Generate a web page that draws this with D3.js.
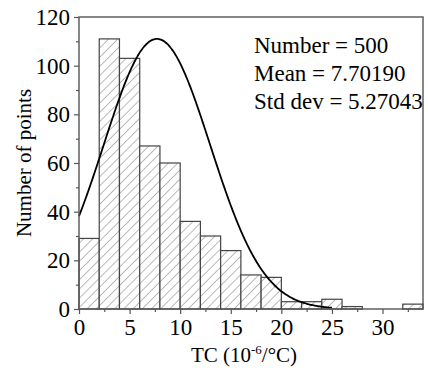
<!DOCTYPE html>
<html><head><meta charset="utf-8">
<script src="https://cdn.jsdelivr.net/npm/d3@7"></script>
<style>body{margin:0;background:#fff}</style>
</head><body>
<script>
const binStarts = [0,2,4,6,8,10,12,14,16,18,20,22,24,26,28,30,32];
const counts    = [29,111,103,67,60,36,30,24,14,13,3,3,4,1,0,0,2];
const binWidth = 2;
const xTicks = [0,5,10,15,20,25,30];
const yTicks = [0,20,40,60,80,100,120];
const statsLines = ["Number = 500","Mean = 7.70190","Std dev = 5.27043"];
const fitMean = 7.70190, fitSd = 5.27043, fitPeak = 111, fitRange = [0,25];

const W=428,H=374;
const m={l:79,r:5,t:17,b:65};
const svg=d3.select("body").append("svg").attr("width",W).attr("height",H);
const x=d3.scaleLinear().domain([0,34]).range([m.l,W-m.r]);
const y=d3.scaleLinear().domain([0,120]).range([H-m.b,m.t]);
const font="Liberation Serif, Times New Roman, serif";

const defs=svg.append("defs");
const pat=defs.append("pattern").attr("id","hatch").attr("patternUnits","userSpaceOnUse")
  .attr("width",6.5).attr("height",6.5).attr("patternTransform","rotate(45)");
pat.append("rect").attr("width",6.5).attr("height",6.5).attr("fill","#fff");
pat.append("line").attr("x1",0).attr("y1",0).attr("x2",0).attr("y2",6.5).attr("stroke","#666").attr("stroke-width",0.9);

svg.append("g").selectAll("rect").data(binStarts.map((s,i)=>({s,c:counts[i]})).filter(d=>d.c>0))
  .join("rect")
  .attr("x",d=>x(d.s)).attr("width",d=>x(d.s+binWidth)-x(d.s))
  .attr("y",d=>y(d.c)).attr("height",d=>y(0)-y(d.c))
  .attr("fill","url(#hatch)").attr("stroke","#444").attr("stroke-width",1.2);

// fitted normal curve from displayed statistics
const pts=d3.range(fitRange[0],fitRange[1]+0.001,0.1).map(v=>[v,fitPeak*Math.exp(-0.5*Math.pow((v-fitMean)/fitSd,2))]);
svg.append("path").datum(pts).attr("d",d3.line().x(d=>x(d[0])).y(d=>y(d[1])).curve(d3.curveBasis))
  .attr("fill","none").attr("stroke","#000").attr("stroke-width",1.8);

// frame
svg.append("rect").attr("x",x(0)).attr("y",y(120)).attr("width",x(34)-x(0)).attr("height",y(0)-y(120))
  .attr("fill","none").attr("stroke","#555").attr("stroke-width",1.4);

// axes
const xa=svg.append("g").attr("transform",`translate(0,${y(0)})`)
  .call(d3.axisBottom(x).tickValues(xTicks).tickSize(5).tickPadding(5).tickFormat(d3.format("d")));
const xm=svg.append("g").attr("transform",`translate(0,${y(0)})`)
  .call(d3.axisBottom(x).tickValues(d3.range(2.5,34,5)).tickSize(3).tickFormat(""));
const ya=svg.append("g").attr("transform",`translate(${x(0)},0)`)
  .call(d3.axisLeft(y).tickValues(yTicks).tickSize(5).tickPadding(4).tickFormat(d3.format("d")));
const ym=svg.append("g").attr("transform",`translate(${x(0)},0)`)
  .call(d3.axisLeft(y).tickValues(d3.range(10,120,20)).tickSize(3).tickFormat(""));
[xa,xm,ya,ym].forEach(g=>{g.select(".domain").remove();g.selectAll("line").attr("stroke","#555").attr("stroke-width",1.2);
  g.selectAll("text").attr("font-family",font).attr("font-size",23).attr("fill","#000");});

svg.append("text").attr("transform",`translate(31,${(y(0)+y(120))/2}) rotate(-90)`).attr("text-anchor","middle")
  .attr("font-family",font).attr("font-size",21).text("Number of points");
const xt=svg.append("text").attr("x",244).attr("y",362).attr("text-anchor","middle")
  .attr("font-family",font).attr("font-size",21);
xt.append("tspan").text("TC (10");
xt.append("tspan").attr("font-size",13).attr("dy",-8).text("-6");
xt.append("tspan").attr("dy",8).text("/°C)");

svg.append("g").selectAll("text").data(statsLines).join("text")
  .attr("x",254).attr("y",(d,i)=>53+i*28).attr("font-family",font).attr("font-size",23).text(d=>d);
</script>
</body></html>
